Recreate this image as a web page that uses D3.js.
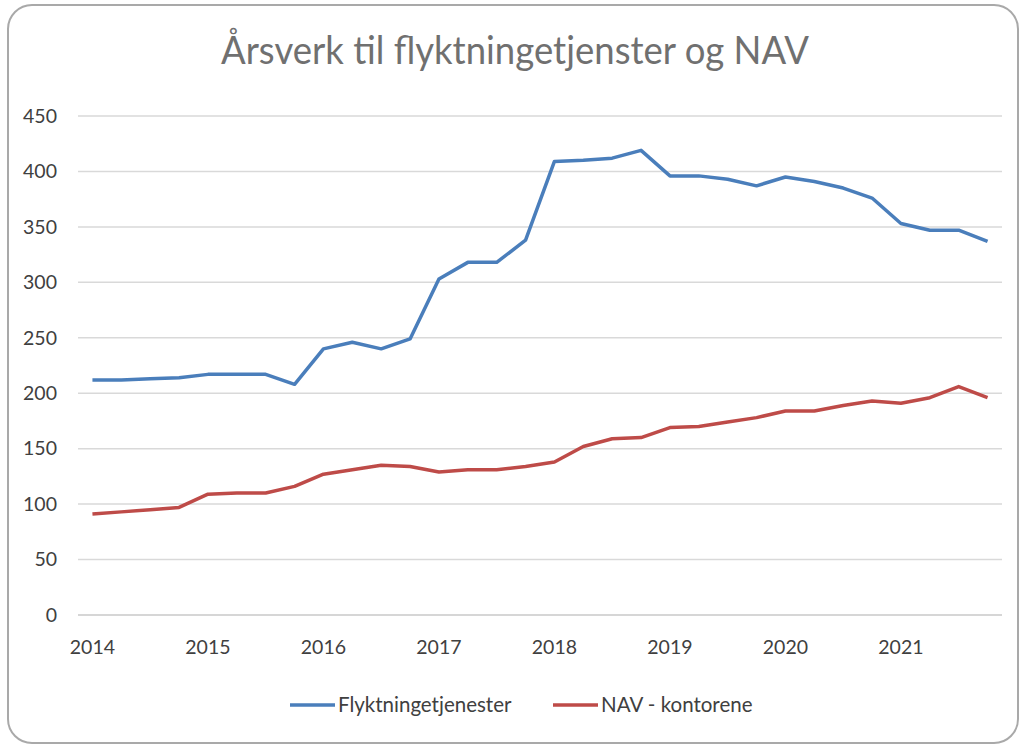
<!DOCTYPE html>
<html>
<head>
<meta charset="utf-8">
<script src="https://cdn.jsdelivr.net/npm/d3@7"></script>
<style>
  body { margin: 0; background: #fff; }
  text { font-family: Lato, "Open Sans", sans-serif; }
</style>
</head>
<body>
<div id="chart"></div>
<script>
// Quarterly values 2014 Q1 - 2021 Q4
const years = [2014, 2015, 2016, 2017, 2018, 2019, 2020, 2021];
const quarters = years.flatMap(y => [1, 2, 3, 4].map(q => y + "Q" + q));

const flyktning = [212, 212, 213, 214, 217, 217, 217, 208,
                   240, 246, 240, 249, 303, 318, 318, 338,
                   409, 410, 412, 419, 396, 396, 393, 387,
                   395, 391, 385, 376, 353, 347, 347, 337];

const nav = [91, 93, 95, 97, 109, 110, 110, 116,
             127, 131, 135, 134, 129, 131, 131, 134,
             138, 152, 159, 160, 169, 170, 174, 178,
             184, 184, 189, 193, 191, 196, 206, 196];

const yTicks = [0, 50, 100, 150, 200, 250, 300, 350, 400, 450];

const seriesNames = ["Flyktningetjenester", "NAV - kontorene"];
const seriesColors = ["#4A7EBB", "#BE4B48"];

const width = 1023, height = 746;
const margin = {top: 116, bottom: 131, left: 78, right: 21};

const svg = d3.select('#chart')
    .append('svg')
    .attr('width', width)
    .attr('height', height);

// Chart frame
svg.append('rect')
    .attr('x', 8).attr('y', 5)
    .attr('width', 1010).attr('height', 738)
    .attr('rx', 24).attr('ry', 24)
    .attr('fill', '#fff')
    .attr('stroke', '#a9a9a9')
    .attr('stroke-width', 2);

// Title
svg.append('text')
    .attr('x', 515)
    .attr('y', 64)
    .attr('text-anchor', 'middle')
    .attr('textLength', 588)
    .attr('lengthAdjust', 'spacingAndGlyphs')
    .style('font-size', '38px')
    .style('font-weight', 400)
    .style('fill', '#707070')
    .text('Årsverk til flyktningetjenster og NAV');

const xScale = d3.scaleBand()
    .domain(quarters)
    .range([margin.left, width - margin.right]);

const yScale = d3.scaleLinear()
    .domain([0, 450])
    .range([height - margin.bottom, margin.top]);

const xMid = d => xScale(d) + xScale.bandwidth() / 2;

// Gridlines
svg.append('g')
    .selectAll('line')
    .data(yTicks)
    .enter().append('line')
    .attr('x1', margin.left)
    .attr('x2', width - margin.right)
    .attr('y1', d => yScale(d))
    .attr('y2', d => yScale(d))
    .attr('stroke', d => d === 0 ? '#c8c8c8' : '#d9d9d9')
    .attr('stroke-width', 1.5);

// Y axis
const yAxis = svg.append('g')
    .attr('transform', `translate(${margin.left - 21},0)`)
    .call(d3.axisLeft(yScale).tickValues(yTicks).tickSize(0).tickPadding(0));
yAxis.select('.domain').remove();
yAxis.selectAll('text')
    .style('font-size', '19.5px')
    .style('font-family', 'Lato, sans-serif')
    .style('fill', '#404040');

// X axis
const xAxis = svg.append('g')
    .attr('transform', `translate(0,${height - margin.bottom})`)
    .call(d3.axisBottom(xScale)
        .tickValues(quarters.filter(q => q.endsWith('Q1')))
        .tickFormat(q => q.slice(0, 4))
        .tickSize(0)
        .tickPadding(25));
xAxis.select('.domain').remove();
xAxis.selectAll('text')
    .style('font-size', '19.5px')
    .style('font-family', 'Lato, sans-serif')
    .style('fill', '#404040');

// Lines
const line = d3.line()
    .x((d, i) => xMid(quarters[i]))
    .y(d => yScale(d));

[flyktning, nav].forEach((values, k) => {
    svg.append('path')
        .datum(values)
        .attr('d', line)
        .attr('fill', 'none')
        .attr('stroke', seriesColors[k])
        .attr('stroke-width', 3.5)
        .attr('stroke-linejoin', 'round');
});

// Legend
const legendX = [290, 553];
const legendW = [180, 202];
const legend = svg.append('g');
legend.selectAll('line')
    .data(seriesNames)
    .enter().append('line')
    .attr('x1', (d, i) => legendX[i])
    .attr('x2', (d, i) => legendX[i] + 45)
    .attr('y1', 705)
    .attr('y2', 705)
    .attr('stroke', (d, i) => seriesColors[i])
    .attr('stroke-width', 3.5);
legend.selectAll('text')
    .data(seriesNames)
    .enter().append('text')
    .attr('x', (d, i) => legendX[i] + 48)
    .attr('y', 705)
    .attr('dy', '0.35em')
    .style('font-size', '20.5px')
    .style('fill', '#404040')
    .text(d => d);
</script>
</body>
</html>
